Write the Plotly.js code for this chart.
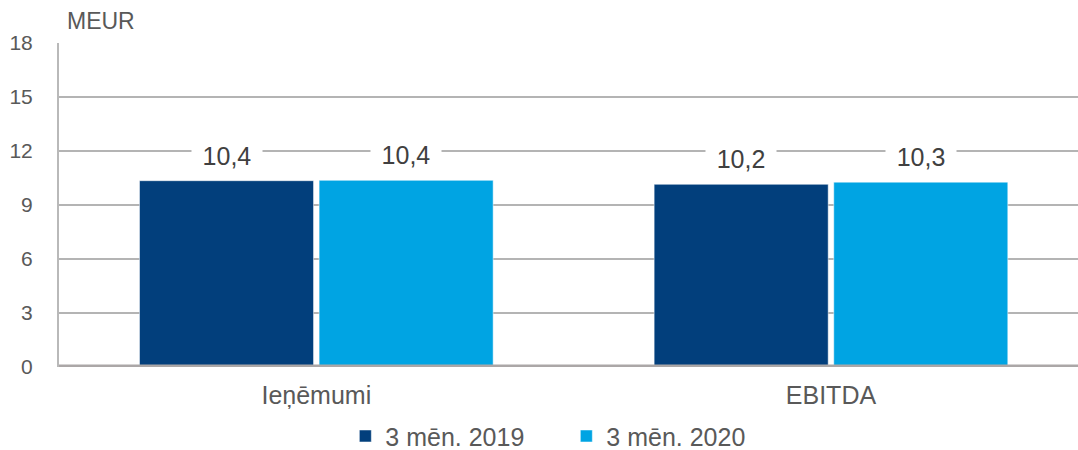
<!DOCTYPE html>
<html>
<head>
<meta charset="utf-8">
<script src="https://cdn.plot.ly/plotly-3.0.1.min.js"></script>
<style>html,body{margin:0;padding:0;background:#fff;}#chart{width:1078px;height:450px;}</style>
</head>
<body>
<div id="chart"></div>
<script>
const categories = ['Ieņēmumi', 'EBITDA'];
const seriesNames = ['3 mēn. 2019', '3 mēn. 2020'];
const values2019 = [10.35, 10.15];
const values2020 = [10.37, 10.27];
const labels2019 = ['10,4', '10,2'];
const labels2020 = ['10,4', '10,3'];
const yTickVals = [0, 3, 6, 9, 12, 15, 18];
const unitLabel = 'MEUR';

const colors = ['#023f7c', '#00a4e3'];
const W = 1078, H = 450;
const margin = {l: 59, r: 0, t: 43, b: 83, pad: 0, autoexpand: false};
const xRange = [-0.5, 1.48];
const bargap = 0.302;
const font = '"Liberation Sans", Arial, sans-serif';

const plotW = W - margin.l - margin.r;
const catPx = plotW / (xRange[1] - xRange[0]);
const slotPx = catPx * (1 - bargap) / 2;

const traces = [
  {type: 'bar', name: seriesNames[0], x: categories, y: values2019,
   marker: {color: colors[0], line: {color: '#ffffff', width: 0.5}}, hoverinfo: 'none'},
  {type: 'bar', name: seriesNames[1], x: categories, y: values2020,
   marker: {color: colors[1], line: {color: '#ffffff', width: 0.5}}, hoverinfo: 'none'}
];

const annotations = [];
[[values2019, labels2019, -1], [values2020, labels2020, 1]].forEach(([vals, labs, side]) => {
  categories.forEach((c, i) => {
    annotations.push({
      x: c, y: vals[i], xref: 'x', yref: 'y', text: labs[i], showarrow: false,
      xshift: side * slotPx / 2, yshift: 10, yanchor: 'bottom',
      bgcolor: '#ffffff', borderpad: 0, width: 70, align: 'center',
      font: {family: font, size: 25, color: '#404040'}
    });
  });
});
annotations.push({
  xref: 'paper', yref: 'paper', x: 0.006, y: 1, xanchor: 'left', yanchor: 'bottom', yshift: 7,
  text: unitLabel, showarrow: false, font: {family: font, size: 23, color: '#595959'}
});

const layout = {
  width: W, height: H, margin: margin,
  paper_bgcolor: '#ffffff', plot_bgcolor: '#ffffff',
  barmode: 'group', bargap: bargap, bargroupgap: 0.031,
  showlegend: true,
  legend: {orientation: 'h', x: 0.281, xanchor: 'left', y: -0.2137, yanchor: 'middle',
           entrywidth: 176, entrywidthmode: 'pixels',
           font: {family: font, size: 25, color: '#595959'}, itemclick: false, traceorder: 'normal'},
  xaxis: {type: 'category', range: xRange, showgrid: false, zeroline: false, showline: false,
          ticks: '', tickfont: {family: font, size: 25, color: '#595959'}, ticklabelstandoff: 11},
  yaxis: {range: [0, 18], tickvals: yTickVals, ticktext: yTickVals.map(String),
          showgrid: true, gridcolor: '#b4b4b4', gridwidth: 1.6,
          zeroline: false, showline: true, linecolor: '#b9b9b9', linewidth: 2,
          ticks: '', tickfont: {family: font, size: 21, color: '#595959'}, ticklabelstandoff: 20},
  shapes: [{type: 'line', xref: 'paper', yref: 'y', x0: 0, x1: 1, y0: 0, y1: 0,
            line: {color: '#aba7a7', width: 5}, layer: 'above'}],
  annotations: annotations,
  font: {family: font}
};

Plotly.newPlot('chart', traces, layout, {staticPlot: true, displayModeBar: false});
</script>
</body>
</html>
